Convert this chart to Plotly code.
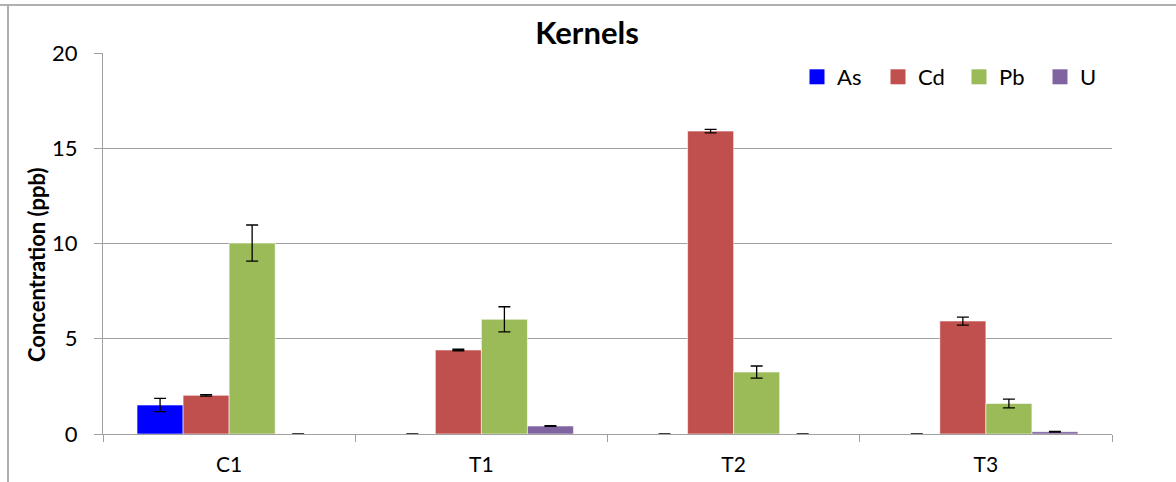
import plotly.graph_objects as go

categories = ["C1", "T1", "T2", "T3"]
series_names = ["As", "Cd", "Pb", "U"]
as_vals = [1.52, 0.0, 0.0, 0.0]
as_err = [0.35, 0.0, 0.0, 0.0]
cd_vals = [2.03, 4.41, 15.9, 5.93]
cd_err = [0.04, 0.04, 0.09, 0.21]
pb_vals = [10.02, 6.02, 3.25, 1.6]
pb_err = [0.95, 0.66, 0.32, 0.23]
u_vals = [0.0, 0.42, 0.0, 0.12]
u_err = [0.0, 0.02, 0.0, 0.02]
colors = ["#0000FF", "#C0504D", "#9BBB59", "#8064A2"]

values = [as_vals, cd_vals, pb_vals, u_vals]
errors = [as_err, cd_err, pb_err, u_err]

FONT = "Lato, Open Sans, sans-serif"

fig = go.Figure()
for name, v, e, c in zip(series_names, values, errors, colors):
    fig.add_trace(go.Bar(
        x=categories, y=v, name=name, showlegend=False,
        marker=dict(color=c, line=dict(color="rgba(255,255,255,0.55)", width=1)),
        error_y=dict(type="data", array=e, visible=True, color="black",
                     thickness=1.3, width=6),
    ))
# legend entries (square markers)
for name, c in zip(series_names, colors):
    fig.add_trace(go.Scatter(
        x=[None], y=[None], mode="markers", name=name,
        marker=dict(symbol="square", size=15, color=c),
    ))

L, R, T, B = 103, 64, 53, 48
W, H = 1176, 482
pw, ph = W - L - R, H - T - B

fig.update_layout(
    width=W, height=H,
    margin=dict(l=L, r=R, t=T, b=B, autoexpand=False),
    paper_bgcolor="white", plot_bgcolor="white",
    barmode="group", bargap=0.27, bargroupgap=0,
    font=dict(family=FONT, color="black"),
    title=dict(text="<b>Kernels</b>", x=587 / W, xanchor="center",
               y=1 - 33 / H, yanchor="middle", font=dict(size=31, family=FONT)),
    legend=dict(orientation="h", x=(797 - L) / pw, xanchor="left",
                y=(H - B - 77) / ph, yanchor="middle",
                font=dict(size=22, family=FONT), entrywidth=36,
                bgcolor="rgba(0,0,0,0)", itemclick=False),
    showlegend=True,
)
fig.update_xaxes(
    showline=True, linecolor="#A0A0A0", linewidth=1.3, automargin=False,
    ticks="outside", tickson="boundaries", ticklen=7, tickcolor="#A0A0A0",
    tickfont=dict(size=21, family=FONT), showgrid=False, ticklabelstandoff=12,
)
fig.update_yaxes(
    range=[0, 20], dtick=5, showline=True, linecolor="#A0A0A0", linewidth=1.3,
    ticks="outside", ticklen=8, tickcolor="#A0A0A0", automargin=False,
    showgrid=True, gridcolor="#A0A0A0", gridwidth=1.3, zeroline=False,
    tickfont=dict(size=22, family=FONT), ticklabelstandoff=12,
)
# y-axis title placed as in the reference (centred lower than the plot middle)
fig.add_annotation(
    text="<b>Concentration (ppb)</b>", textangle=-90, showarrow=False,
    xref="paper", yref="paper", x=(36 - L) / pw, y=(H - B - 265) / ph,
    xanchor="center", yanchor="middle", font=dict(size=22, family=FONT),
)
# outer chart frame (top and left edges)
fig.add_shape(type="line", xref="paper", yref="paper",
              x0=(0 - L) / pw, x1=(W - L) / pw,
              y0=(H - B - 5) / ph, y1=(H - B - 5) / ph,
              line=dict(color="#B0B0B0", width=2))
fig.add_shape(type="line", xref="paper", yref="paper",
              x0=(8 - L) / pw, x1=(8 - L) / pw,
              y0=(H - B - 5) / ph, y1=(H - B - H) / ph,
              line=dict(color="#B0B0B0", width=2))

fig.write_html("out.html")
